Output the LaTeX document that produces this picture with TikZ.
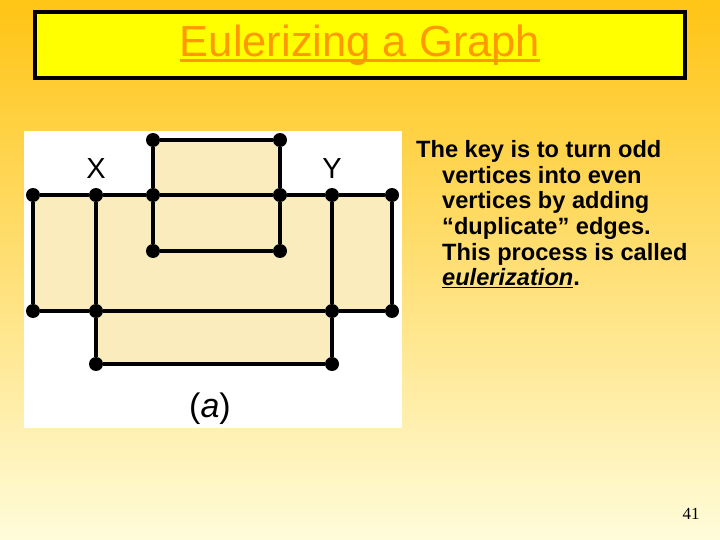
\documentclass[tikz,border=0pt]{standalone}
\usepackage{fontspec}
\setmainfont{Liberation Sans}
\newfontfamily\numfont{Liberation Serif}
\usepackage{xcolor}
\usepackage{tikz}
\definecolor{bgtop}{RGB}{255,196,20}
\definecolor{bgmid}{RGB}{255,233,150}
\definecolor{bgbot}{RGB}{255,252,218}
\definecolor{titlefill}{RGB}{255,255,0}
\definecolor{titletext}{RGB}{255,153,0}
\definecolor{facefill}{RGB}{251,236,189}

\begin{document}
\begin{tikzpicture}[x=1pt, y=-1pt,
  vtx/.style={circle, fill=black, inner sep=0pt, minimum size=14pt},
  gedge/.style={line width=3.6pt},
  face/.style={fill=facefill},
  vlabel/.style={font=\fontsize{29}{29}\selectfont, inner sep=0pt},
  titlebox/.style={draw=black, line width=3.5pt, fill=titlefill, minimum width=650pt, minimum height=66pt},
  bodytext/.style={font=\fontsize{23.6}{25.7}\selectfont\bfseries, align=left, inner sep=0pt, anchor=north west}]
  \useasboundingbox (0,0) rectangle (720,540);
  \shade[top color=bgtop, middle color=bgmid, bottom color=bgbot] (0,0) rectangle (720,540);
  % title
  \node[titlebox] (title) at (360,45) {};
  \node[font=\fontsize{43.5}{43.5}\selectfont, text=titletext, inner sep=0pt] (titletxt) at (360,45)
    {Eulerizing a Graph};
  \draw[titletext, line width=2.6pt] ([yshift=-4pt]titletxt.base west) -- ([yshift=-4pt]titletxt.base east);
  % graph picture
  \fill[white] (24,131) rectangle (402,428);
  \fill[face] (33,195) rectangle (392,311);
  \fill[face] (96,311) rectangle (332,364);
  \fill[face] (153,140) rectangle (280,195);
  \node[vtx] (t1) at (153,140) {};
  \node[vtx] (t2) at (280,140) {};
  \node[vtx] (m1) at (33,195)  {};
  \node[vtx] (x)  at (96,195)  {};
  \node[vtx] (m3) at (153,195) {};
  \node[vtx] (m4) at (280,195) {};
  \node[vtx] (y)  at (332,195) {};
  \node[vtx] (m6) at (392,195) {};
  \node[vtx] (i1) at (153,251) {};
  \node[vtx] (i2) at (280,251) {};
  \node[vtx] (l1) at (33,311)  {};
  \node[vtx] (l2) at (96,311)  {};
  \node[vtx] (l3) at (332,311) {};
  \node[vtx] (l4) at (392,311) {};
  \node[vtx] (b1) at (96,364)  {};
  \node[vtx] (b2) at (332,364) {};
  \draw[gedge] (t1) -- (t2);
  \draw[gedge] (m1) -- (x) -- (m3) -- (m4) -- (y) -- (m6);
  \draw[gedge] (i1) -- (i2);
  \draw[gedge] (l1) -- (l2) -- (l3) -- (l4);
  \draw[gedge] (b1) -- (b2);
  \draw[gedge] (t1) -- (m3) -- (i1);
  \draw[gedge] (t2) -- (m4) -- (i2);
  \draw[gedge] (m1) -- (l1);
  \draw[gedge] (x) -- (l2) -- (b1);
  \draw[gedge] (y) -- (l3) -- (b2);
  \draw[gedge] (m6) -- (l4);
  \node[vlabel] (xlab) at (96,169) {X};
  \node[vlabel] (ylab) at (332,169) {Y};
  \node[font=\fontsize{34}{34}\selectfont, inner sep=0pt] (cap) at (210,409) {(\textit{a})};
  % text
  \node[bodytext] (body) at (416,140)
    {The key is to turn odd\\
     \hspace*{26pt}vertices into even\\
     \hspace*{26pt}vertices by adding\\
     \hspace*{26pt}“duplicate” edges.\\
     \hspace*{26pt}This process is called\\
     \hspace*{26pt}\underline{\textit{eulerization}}.};
  \node[font=\fontsize{17}{17}\selectfont\numfont] (pgnum) at (691,514) {41};
\end{tikzpicture}
\end{document}
